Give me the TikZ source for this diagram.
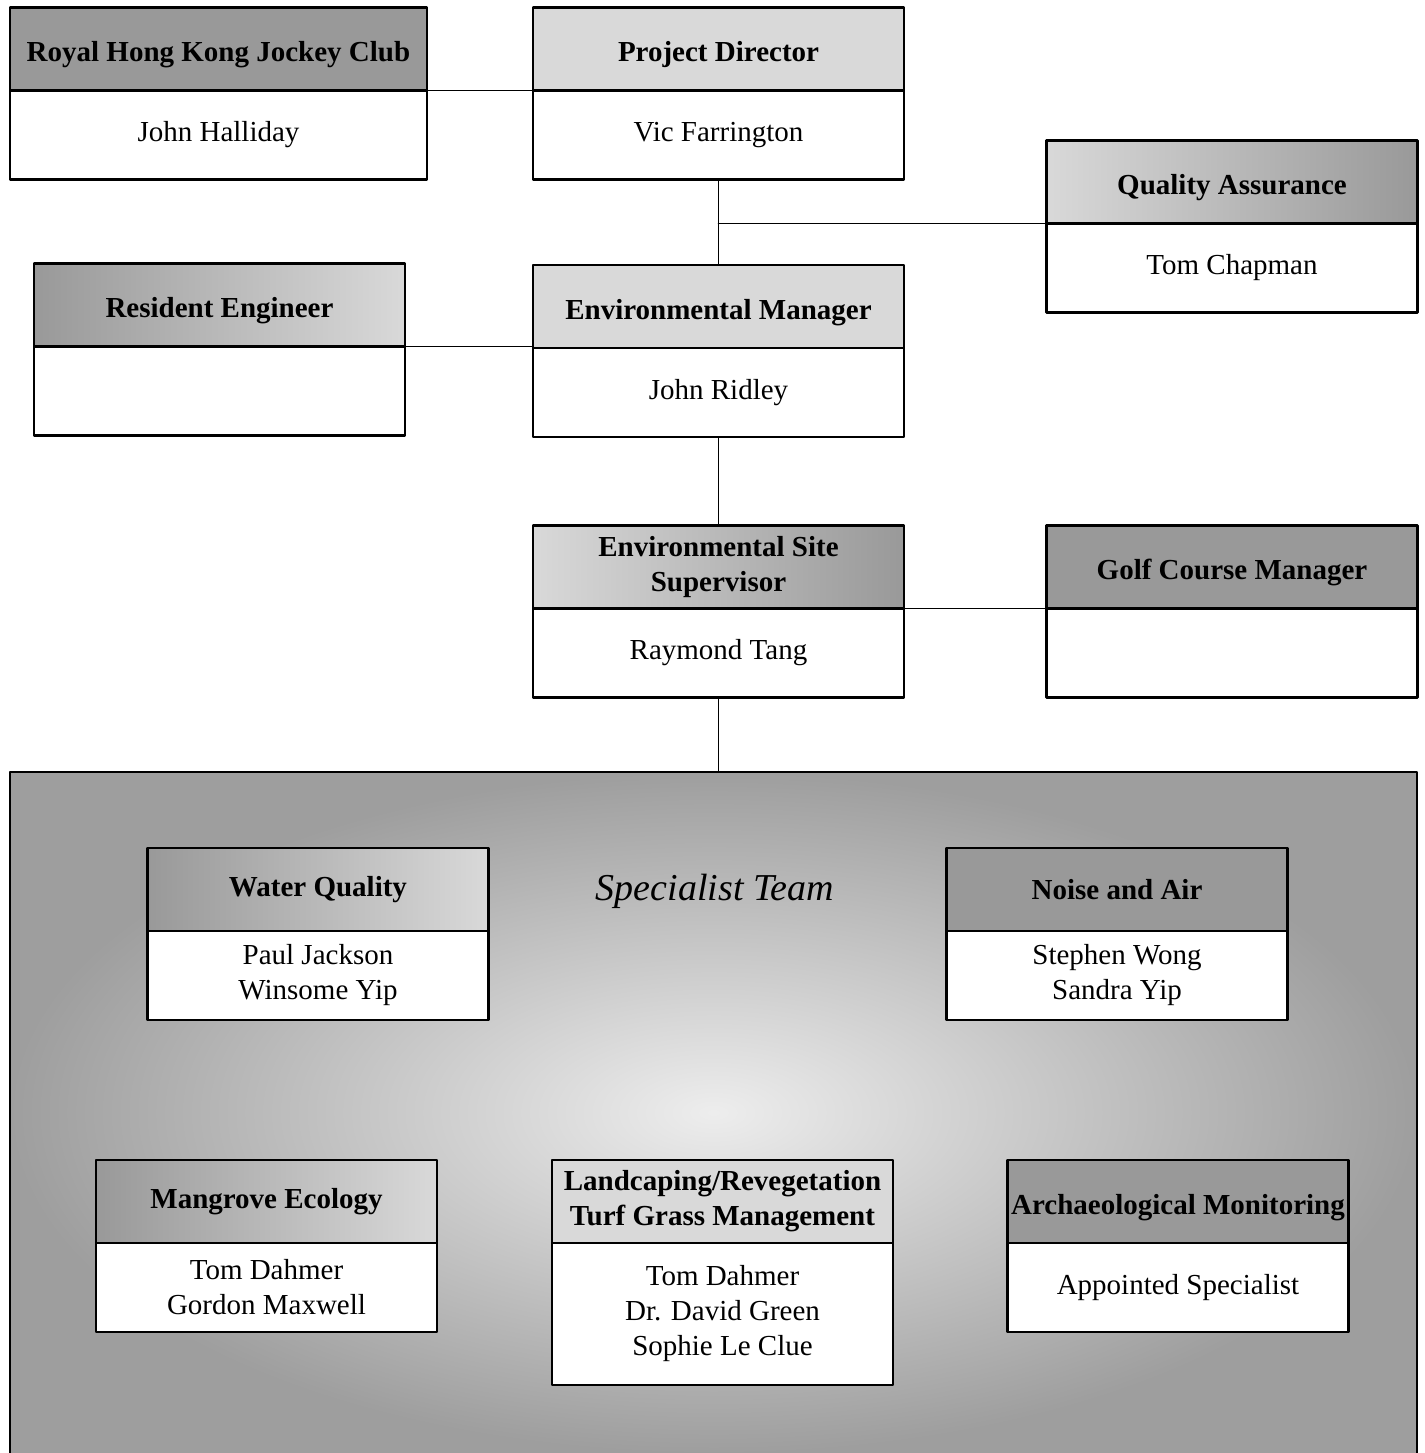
\documentclass[tikz,border=0pt]{standalone}
\usepackage{fontspec}
\setmainfont{Liberation Serif}
\usepackage{tikz}
\usetikzlibrary{positioning}
\definecolor{HeadDark}{gray}{0.6}
\definecolor{HeadLight}{gray}{0.85}
\definecolor{TeamOuter}{gray}{0.62}
\definecolor{TeamInner}{gray}{0.93}
\tikzset{every node/.style={font=\fontsize{14.5}{17.5}\selectfont}, every path/.style={line cap=round, line join=round}}
\tikzset{
    head/.style={draw, line width=1.1pt, outer sep=0pt, minimum width=185.5pt, minimum height=41.5pt, inner sep=0pt, align=center, font=\fontsize{14.5}{17.5}\selectfont\bfseries},
    lowtext/.style={text height=12.5pt, text depth=0pt},
    person/.style={draw, fill=white, line width=1.1pt, outer sep=0pt, minimum width=185.5pt, minimum height=44.5pt, inner sep=0pt, align=center},
    spechead/.style={head, minimum width=170.5pt},
    specperson/.style={person, minimum width=170.5pt},
    teambox/.style={inner sep=0pt, outer sep=0pt, minimum width=703.5pt, minimum height=340.5pt, inner color=TeamInner, outer color=TeamOuter},
    link/.style={line width=0.9pt}
}

\begin{document}
\begin{tikzpicture}[x=0.5pt, y=-0.5pt]
    \useasboundingbox (0,0) rectangle (1425,1453);

    % specialist team area
    \node [teambox] (team) at (713.5,1112.5) {};
    \draw [line width=1.1pt] (team.south west) |- (team.north east) -- (team.south east);
    \node [font=\fontsize{19}{23}\selectfont\itshape] (teamtitle) at (715,891) {Specialist Team};

    % top rows
    \node [head, lowtext, fill=HeadDark, minimum width=208.5pt] (rhkjc) at (218.5,49) {Royal Hong Kong Jockey Club};
    \node [person, minimum width=208.5pt, below=0pt of rhkjc] (rhkjcname) {John Halliday};

    \node [head, lowtext, fill=HeadLight] (director) at (718.5,49) {Project Director};
    \node [person, below=0pt of director] (directorname) {Vic Farrington};

    \node [head, lowtext, left color=HeadLight, right color=HeadDark] (qa) at (1232,182) {Quality Assurance};
    \node [person, below=0pt of qa] (qaname) {Tom Chapman};

    \node [head, lowtext, left color=HeadDark, right color=HeadLight] (re) at (219.5,305) {Resident Engineer};
    \node [person, below=0pt of re] (rename) {};

    \node [head, lowtext, fill=HeadLight] (envmgr) at (718.5,306.5) {Environmental Manager};
    \node [person, below=0pt of envmgr] (envmgrname) {John Ridley};

    \node [head, left color=HeadLight, right color=HeadDark] (ess) at (718.5,567) {Environmental Site\\Supervisor};
    \node [person, below=0pt of ess] (essname) {Raymond Tang};

    \node [head, lowtext, fill=HeadDark] (gcm) at (1232,567) {Golf Course Manager};
    \node [person, below=0pt of gcm] (gcmname) {};

    % specialists
    \node [spechead, left color=HeadDark, right color=HeadLight] (water) at (318,889.5) {Water Quality};
    \node [specperson, below=0pt of water] (watername) {Paul Jackson\\Winsome Yip};

    \node [spechead, fill=HeadDark] (noise) at (1117,889.5) {Noise and Air};
    \node [specperson, below=0pt of noise] (noisename) {Stephen Wong\\Sandra Yip};

    \node [spechead, left color=HeadDark, right color=HeadLight] (mangrove) at (266.5,1201.5) {Mangrove Ecology};
    \node [specperson, below=0pt of mangrove] (mangrovename) {Tom Dahmer\\Gordon Maxwell};

    \node [spechead, fill=HeadLight] (landscape) at (722.5,1201.5) {Landcaping/Revegetation\\Turf Grass Management};
    \node [specperson, minimum height=71pt, below=0pt of landscape] (landscapename) {Tom Dahmer\\Dr. David Green\\Sophie Le Clue};

    \node [spechead, lowtext, fill=HeadDark] (archaeo) at (1178,1201.5) {Archaeological Monitoring};
    \node [specperson, below=0pt of archaeo] (archaeoname) {Appointed Specialist};

    % reporting lines
    \draw [link] (rhkjc.south east) -- (director.south west);
    \draw [link] (directorname.south) -- (envmgr.north);
    \draw [link] (qa.south west) -- (qa.south west -| directorname.south);
    \draw [link] (re.south east) -- (re.south east -| envmgr.west);
    \draw [link] (envmgrname.south) -- (ess.north);
    \draw [link] (ess.south east) -- (gcm.south west);
    \draw [link] (essname.south) -- (essname.south |- team.north);
\end{tikzpicture}
\end{document}
